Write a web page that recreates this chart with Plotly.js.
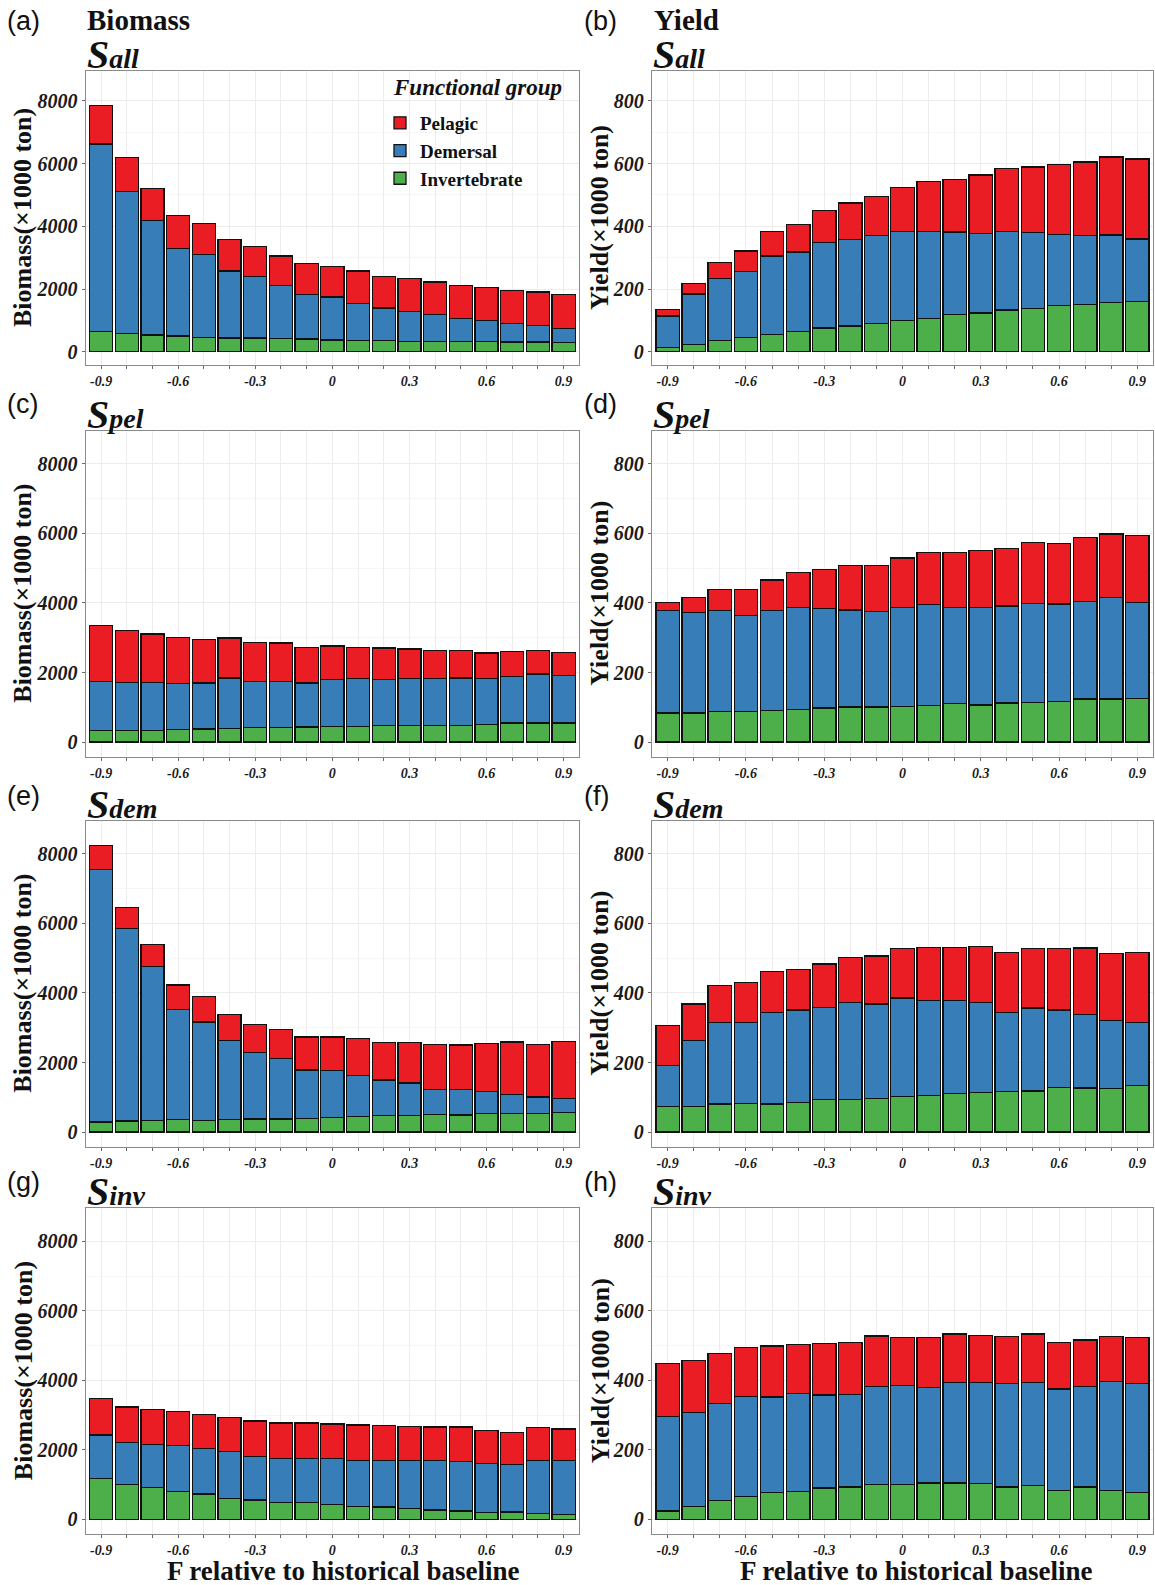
<!DOCTYPE html>
<html><head><meta charset="utf-8">
<script src="https://cdn.plot.ly/plotly-3.0.1.min.js"></script>
<style>html,body{margin:0;padding:0;background:#fff;} #chart{width:1155px;height:1585px;}</style>
</head><body><div id="chart"></div>
<script>
// ---------- categories & tick labels ----------
const fLevels = [-0.9,-0.8,-0.7,-0.6,-0.5,-0.4,-0.3,-0.2,-0.1,0,0.1,0.2,0.3,0.4,0.5,0.6,0.7,0.8,0.9];
const xTickText = ['-0.9','','','-0.6','','','-0.3','','','0','','','0.3','','','0.6','','','0.9'];
const bioTickVals = [0,2000,4000,6000,8000];
const bioTickText = ['0','2000','4000','6000','8000'];
const yldTickVals = [0,200,400,600,800];
const yldTickText = ['0','200','400','600','800'];
const groupNames = ['Pelagic','Demersal','Invertebrate'];

// ---------- Biomass (x1000 ton) ----------
const bio_Sall_pel = [1220,1090,1030,1045,980,1000,955,945,980,980,1030,1010,1060,1030,1065,1060,1060,1080,1080];
const bio_Sall_dem = [5980,4515,3635,2790,2660,2135,1965,1690,1430,1375,1180,1040,935,860,740,670,595,520,455];
const bio_Sall_inv = [640,585,540,500,450,445,445,415,405,375,370,360,340,340,320,320,310,310,290];

const bio_Spel_pel = [1605,1480,1385,1320,1245,1145,1120,1100,1025,965,900,900,850,800,785,725,725,670,660];
const bio_Spel_dem = [1405,1385,1385,1330,1325,1445,1340,1340,1270,1355,1375,1335,1355,1340,1360,1330,1340,1415,1365];
const bio_Spel_inv = [335,335,335,360,375,400,410,410,430,440,450,470,470,485,485,505,545,545,545];

const bio_Sdem_pel = [690,600,650,705,735,745,815,840,945,965,1070,1070,1155,1310,1290,1375,1510,1520,1625];
const bio_Sdem_dem = [7260,5535,4415,3170,2830,2275,1910,1740,1385,1350,1175,1020,935,710,720,650,555,480,410];
const bio_Sdem_inv = [290,315,335,355,335,355,375,375,400,420,450,480,480,505,495,525,525,525,565];

const bio_Sinv_pel = [1040,1015,1020,975,985,985,1015,1025,1025,995,1030,1005,985,965,995,955,935,945,910];
const bio_Sinv_dem = [1255,1210,1240,1335,1300,1355,1260,1255,1270,1330,1310,1335,1385,1420,1425,1415,1365,1530,1555];
const bio_Sinv_inv = [1175,1005,910,795,735,595,555,495,480,420,380,355,305,270,240,190,210,160,135];

// ---------- Yield (x1000 ton) ----------
const yld_Sall_pel = [21,34,51,64,79,88,102,116,124,140,158,168,187,200,209,222,235,249,255];
const yld_Sall_dem = [100,160,196,212,250,254,272,276,280,285,278,263,253,251,241,227,220,214,199];
const yld_Sall_inv = [14,24,37,45,55,64,76,82,90,99,106,119,124,133,139,148,150,158,161];

const yld_Spel_pel = [22,42,59,74,88,100,113,128,132,142,150,158,164,165,174,174,184,182,192];
const yld_Spel_dem = [295,289,291,277,287,293,285,279,274,285,290,277,280,279,285,281,280,292,276];
const yld_Spel_inv = [84,84,88,87,91,94,98,101,101,102,105,110,107,112,114,116,124,124,125];

const yld_Sdem_pel = [115,105,107,114,118,116,125,129,138,142,151,151,162,173,171,177,192,193,202];
const yld_Sdem_dem = [117,189,233,232,263,265,265,280,271,283,273,269,258,227,239,222,210,195,182];
const yld_Sdem_inv = [74,74,81,83,81,86,93,93,97,102,106,110,114,116,118,129,127,125,133];

const yld_Sinv_pel = [153,149,145,141,147,141,148,148,146,139,144,139,136,136,139,134,134,130,134];
const yld_Sinv_dem = [272,270,278,289,274,282,268,267,282,285,275,289,291,297,297,292,289,313,312];
const yld_Sinv_inv = [24,38,55,65,78,81,90,93,100,100,105,105,103,93,97,83,93,83,78];

// ---------- styling ----------
const W = 1155, H = 1585;
const PX = x => x / W;
const PY = y => 1 - y / H;
const SERIF = 'Liberation Serif, Times New Roman, serif';
const SANS = 'Liberation Sans, Arial, sans-serif';
const colors = {Pelagic:'#EB1D24', Demersal:'#377EB8', Invertebrate:'#4DAF4A'};

const colX = [[85.7, 579], [652, 1153]];
const rowY = [[71, 365], [430.7, 756.7], [820.7, 1146.7], [1208.3, 1534]];

const panels = [
  {letter:'(a)', sub:'all', kind:'bio', row:0, col:0, pel:bio_Sall_pel, dem:bio_Sall_dem, inv:bio_Sall_inv},
  {letter:'(b)', sub:'all', kind:'yld', row:0, col:1, pel:yld_Sall_pel, dem:yld_Sall_dem, inv:yld_Sall_inv},
  {letter:'(c)', sub:'pel', kind:'bio', row:1, col:0, pel:bio_Spel_pel, dem:bio_Spel_dem, inv:bio_Spel_inv},
  {letter:'(d)', sub:'pel', kind:'yld', row:1, col:1, pel:yld_Spel_pel, dem:yld_Spel_dem, inv:yld_Spel_inv},
  {letter:'(e)', sub:'dem', kind:'bio', row:2, col:0, pel:bio_Sdem_pel, dem:bio_Sdem_dem, inv:bio_Sdem_inv},
  {letter:'(f)', sub:'dem', kind:'yld', row:2, col:1, pel:yld_Sdem_pel, dem:yld_Sdem_dem, inv:yld_Sdem_inv},
  {letter:'(g)', sub:'inv', kind:'bio', row:3, col:0, pel:bio_Sinv_pel, dem:bio_Sinv_dem, inv:bio_Sinv_inv},
  {letter:'(h)', sub:'inv', kind:'yld', row:3, col:1, pel:yld_Sinv_pel, dem:yld_Sinv_dem, inv:yld_Sinv_inv}
];

const letterY = [21, 404, 796, 1182];
const letterX = [5, 582];

const traces = [];
const layout = {
  width: W, height: H,
  margin: {l:0, r:0, t:0, b:0},
  paper_bgcolor: '#fff', plot_bgcolor: '#fff',
  barmode: 'stack',
  font: {family: SERIF, color: '#111'},
  showlegend: true,
  legend: {
    x: PX(380), y: PY(104), xanchor: 'left', yanchor: 'top',
    bgcolor: 'rgba(0,0,0,0)', traceorder: 'reversed',
    font: {family: SERIF, size: 19, weight: 'bold', color: '#111'},
    itemwidth: 30
  },
  annotations: []
};

const tickFontY = {family: SERIF, size: 20, weight: 'bold', style: 'italic', color: '#1a1a1a'};
const tickFontX = {family: SERIF, size: 14, weight: 'bold', style: 'italic', color: '#1a1a1a'};

panels.forEach((p, i) => {
  const n = i === 0 ? '' : String(i + 1);
  const xd = colX[p.col], yd = rowY[p.row];
  const isBio = p.kind === 'bio';
  layout['xaxis' + n] = {
    domain: [PX(xd[0]), PX(xd[1])], anchor: 'y' + n,
    range: [-0.96, 0.96], tickmode: 'array', tickvals: fLevels, ticktext: xTickText,
    ticks: 'outside', ticklen: 3, tickwidth: 1, tickcolor: '#666',
    showgrid: true, gridcolor: '#ececec', gridwidth: 1, zeroline: false,
    showline: true, mirror: true, linecolor: '#8a8a8a', linewidth: 1.2,
    tickfont: tickFontX, fixedrange: true
  };
  layout['yaxis' + n] = {
    domain: [PY(yd[1]), PY(yd[0])], anchor: 'x' + n,
    range: isBio ? [-420, 8950] : [-42, 895],
    tickmode: 'array', tickvals: isBio ? bioTickVals : yldTickVals, ticktext: isBio ? bioTickText : yldTickText,
    ticks: 'outside', ticklen: 3, tickwidth: 1, tickcolor: '#666',
    showgrid: true, gridcolor: '#ececec', gridwidth: 1, zeroline: false,
    minor: {tickmode: 'linear', tick0: 0, dtick: isBio ? 1000 : 100, showgrid: true, gridcolor: '#f6f6f6', gridwidth: 1},
    showline: true, mirror: true, linecolor: '#8a8a8a', linewidth: 1.2,
    tickfont: tickFontY, fixedrange: true
  };

  [['Invertebrate', p.inv], ['Demersal', p.dem], ['Pelagic', p.pel]].forEach(([name, vals]) => {
    traces.push({
      type: 'bar', x: fLevels, y: vals, name: name,
      xaxis: 'x' + n, yaxis: 'y' + n, width: 0.09,
      marker: {color: colors[name], line: {color: '#111', width: 1.3}},
      showlegend: i === 0, legendgroup: name, hoverinfo: 'skip'
    });
  });

  // panel letter
  layout.annotations.push({
    xref: 'paper', yref: 'paper', x: PX(letterX[p.col]), y: PY(letterY[p.row]),
    xanchor: 'left', yanchor: 'middle', showarrow: false, text: p.letter,
    font: {family: SANS, size: 27, color: '#111'}
  });
  // scenario title S_xxx
  layout.annotations.push({
    xref: 'paper', yref: 'paper', x: PX(xd[0] - 1), y: PY(yd[0] + 8),
    xanchor: 'left', yanchor: 'bottom', showarrow: false,
    text: 'S<span style="font-size:28px">' + p.sub + '</span>',
    font: {family: SERIF, size: 40, weight: 'bold', style: 'italic', color: '#111'}
  });
  // y-axis title
  layout.annotations.push({
    xref: 'paper', yref: 'paper', x: PX(p.col === 0 ? 23 : 600), y: PY((yd[0] + yd[1]) / 2),
    xanchor: 'center', yanchor: 'middle', textangle: -90, showarrow: false,
    text: isBio ? 'Biomass(×1000 ton)' : 'Yield(×1000 ton)',
    font: {family: SERIF, size: 26, weight: 'bold', color: '#111'}
  });
});

// column headers
layout.annotations.push({xref:'paper', yref:'paper', x: PX(85), y: PY(38), xanchor:'left', yanchor:'bottom', showarrow:false,
  text:'Biomass', font:{family:SERIF, size:29, weight:'bold', color:'#111'}});
layout.annotations.push({xref:'paper', yref:'paper', x: PX(652), y: PY(38), xanchor:'left', yanchor:'bottom', showarrow:false,
  text:'Yield', font:{family:SERIF, size:29, weight:'bold', color:'#111'}});
// x-axis titles
[343, 916].forEach(cx => layout.annotations.push({xref:'paper', yref:'paper', x: PX(cx), y: PY(1571), xanchor:'center', yanchor:'middle', showarrow:false,
  text:'F relative to historical baseline', font:{family:SERIF, size:27, weight:'bold', color:'#111'}}));
// legend title
layout.annotations.push({xref:'paper', yref:'paper', x: PX(391), y: PY(102), xanchor:'left', yanchor:'bottom', showarrow:false,
  text:'Functional group', font:{family:SERIF, size:23, weight:'bold', style:'italic', color:'#111'}});

Plotly.newPlot('chart', traces, layout, {displayModeBar: false, staticPlot: true});
</script>
</body></html>
